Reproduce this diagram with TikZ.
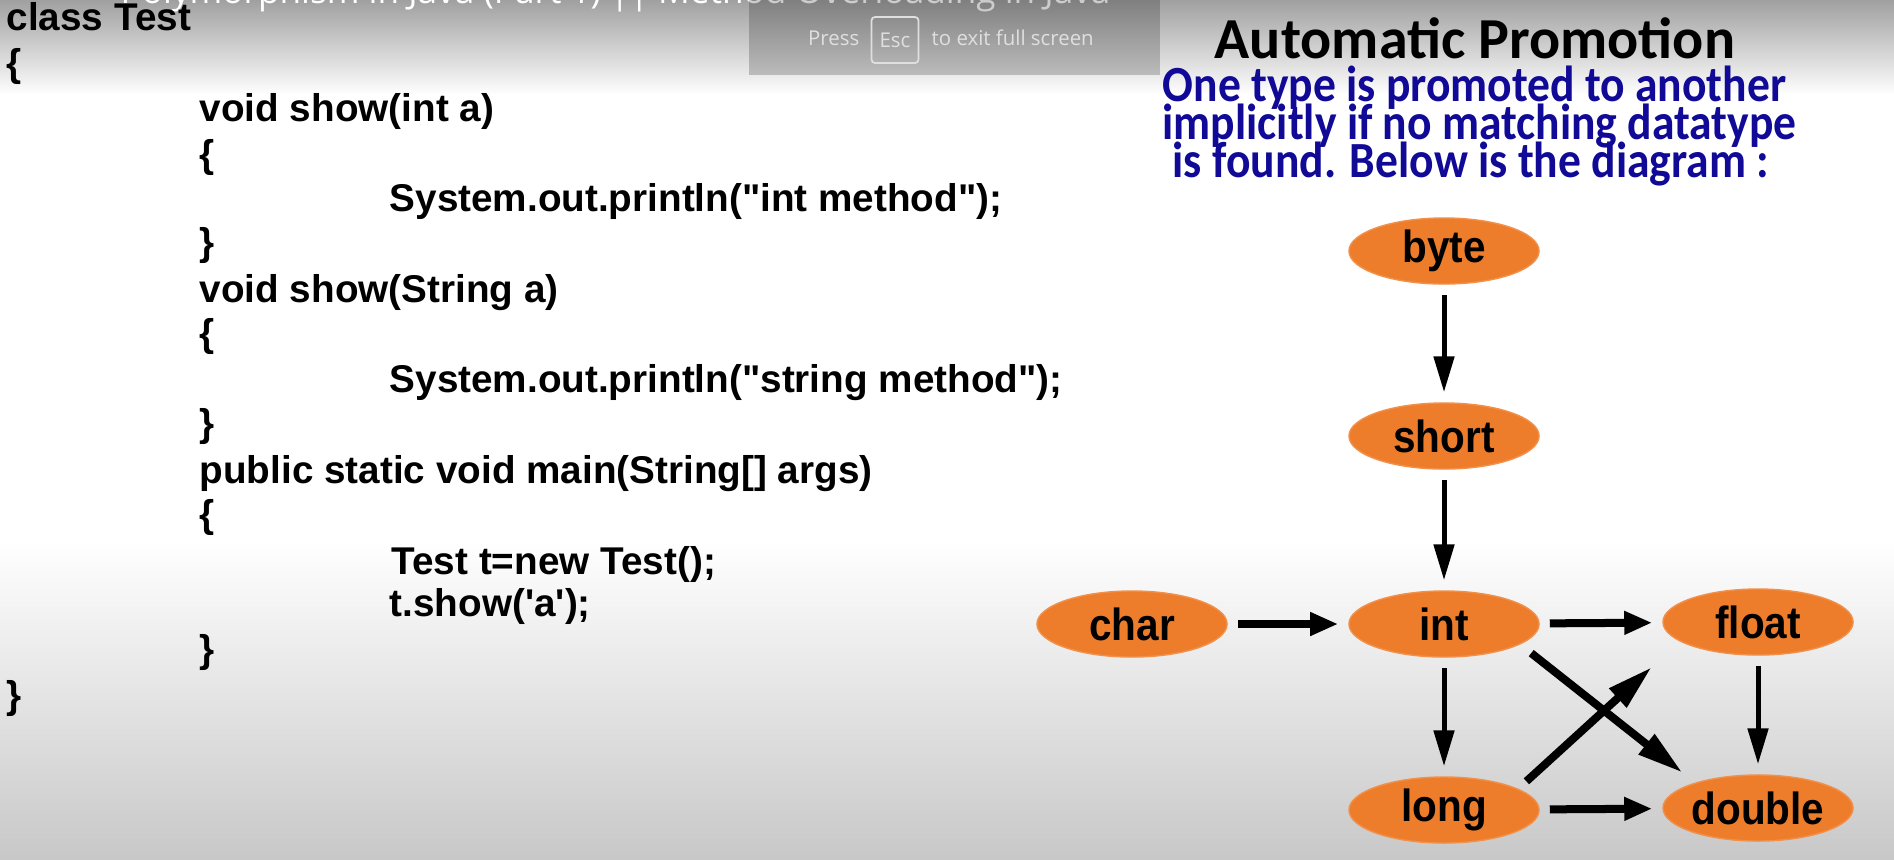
\documentclass[tikz,border=0pt]{standalone}
\usepackage{fontspec}
\newfontfamily\codefont{Liberation Sans}
\newfontfamily\labelfont{Liberation Sans}[FakeStretch=0.9]
\newfontfamily\slidefont{Carlito}
\newfontfamily\notefont{Carlito}[FakeStretch=0.9]
\newfontfamily\uifont{Open Sans}
\usetikzlibrary{arrows.meta, shapes.geometric}
\definecolor{promo}{RGB}{238,125,43}
\definecolor{noteblue}{RGB}{16,10,150}
\definecolor{topgray}{RGB}{160,160,160}
\definecolor{lowgray}{RGB}{200,200,200}
\tikzset{
  codeline/.style={anchor=base west, inner sep=0pt,
    font=\codefont\bfseries\fontsize{11}{13}\selectfont},
  typenode/.style={ellipse, fill=promo, draw=promo!85!white,
    minimum width=1.9cm, minimum height=0.66cm, inner sep=0pt,
    font=\labelfont\bfseries\fontsize{12.8}{14}\selectfont},
  link/.style={draw, shorten <=0.1cm, shorten >=0.1cm},
  vlink/.style={link, line width=0.05cm,
    -{Triangle[length=0.36cm,width=0.2cm]}},
  hlink/.style={link, line width=0.08cm,
    -{Triangle[length=0.28cm,width=0.22cm]}},
  xlink/.style={link, line width=0.08cm,
    -{Triangle[length=0.46cm,width=0.24cm]}},
}
\begin{document}
\begin{tikzpicture}[x=0.01cm, y=-0.01cm]
\useasboundingbox (0,0) rectangle (1894,859);
\clip (0,0) rectangle (1894,859);
% screen background
\fill[white] (0,0) rectangle (1894,859);
\shade[top color=topgray, bottom color=white] (0,0) rectangle (1894,95);
\shade[top color=white, bottom color=lowgray] (0,540) rectangle (1894,859);
\node[anchor=base west, inner sep=0pt, text=white,
  font=\uifont\fontsize{10}{12}\selectfont] (ytitle) at (120,3)
  {Polymorphism in Java (Part 1) || Method Overloading in Java};
% full screen hint
\fill[black, opacity=0.2] (749,0) rectangle (1160,75);
\node[anchor=east, inner sep=0pt, text=gray!25,
  font=\uifont\fontsize{5.8}{7}\selectfont] (press) at (860,38) {Press};
\node[draw=gray!25, rounded corners=1pt, line width=0.5pt, text=gray!25,
  minimum width=0.47cm, minimum height=0.46cm, inner sep=0pt,
  font=\uifont\fontsize{5.8}{7}\selectfont] (esc) at (895,40) {Esc};
\node[anchor=west, inner sep=0pt, text=gray!25,
  font=\uifont\fontsize{5.8}{7}\selectfont] (exit) at (931,38)
  {to exit full screen};
% LEFT: code
\foreach \y/\x/\txt [count=\i] in {
  30/6/class Test, 76/6/\{,
  121/199/void show(int a), 167/199/\{,
  211/389/System.out.println("int method");, 255/199/\},
  302/199/void show(String a), 346/199/\{,
  392/389/System.out.println("string method");, 436/199/\},
  483/199/public static void main(String[] args), 527/199/\{,
  574/391/Test t=new Test();,
  616/389/t.show(\textquotesingle a\textquotesingle);,
  662/199/\}, 708/6/\}
}{\node[codeline] (code\i) at (\x,\y) {\txt};}
% RIGHT: promotion diagram
\node[anchor=base, inner sep=0pt,
  font=\slidefont\bfseries\fontsize{16.5}{19}\selectfont]
  (title) at (1475,58) {Automatic Promotion};
\foreach \y/\x/\txt [count=\i] in {
  101/1162/One type is promoted to another,
  139/1162/implicitly if no matching datatype,
  177/1172/is found. Below is the diagram :
}{\node[anchor=base west, inner sep=0pt, text=noteblue,
    font=\notefont\bfseries\fontsize{14.4}{16}\selectfont]
    (note\i) at (\x,\y) {\txt};}
\node[typenode] (byte) at (1444,251) {byte};
\node[typenode] (short) at (1444,436) {short};
\node[typenode] (char) at (1132,624) {char};
\node[typenode] (int) at (1444,624) {int};
\node[typenode] (float) at (1758,622) {float};
\node[typenode] (long) at (1444,810) {long};
\node[typenode] (double) at (1758,808) {double};
\draw[vlink] (byte) -- (short);
\draw[vlink] (short) -- (int);
\draw[hlink] (char) -- (int);
\draw[hlink] (int) -- (float);
\draw[vlink] (int) -- (long);
\draw[vlink] (float) -- (double);
\draw[hlink] (long) -- (double);
\draw[xlink, shorten <=0.14cm, shorten >=0.16cm] (int.-15) -- (double.158);
\draw[xlink, shorten <=0.11cm, shorten >=0.38cm] (long.16) -- (float.194);
\end{tikzpicture}
\end{document}
